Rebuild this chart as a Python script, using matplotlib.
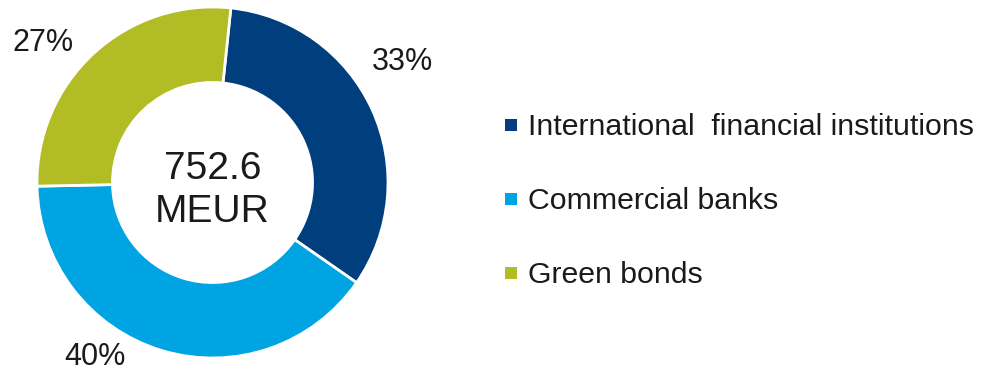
import numpy as np
import matplotlib.pyplot as plt
from matplotlib.patches import Rectangle

plt.rcParams["font.family"] = ["Liberation Sans", "DejaVu Sans"]

# Funding sources (share of total, %)
sources = ["International  financial institutions", "Commercial banks", "Green bonds"]
shares = [33, 40, 27]
colors = ["#003E7E", "#00A4E2", "#B2BC24"]
total_label = "752.6\nMEUR"

W, H = 987, 374
R = 175.5            # outer radius in pixels
cx, cy = 212.5, 182.5  # donut centre in pixels

fig = plt.figure(figsize=(W / 100, H / 100), dpi=100)
ax = fig.add_axes([0, 0, 1, 1])

wedges, _ = ax.pie(shares, colors=colors, startangle=84, counterclock=False,
                   radius=1.0, center=(0, 0), frame=True,
                   wedgeprops=dict(width=0.43, edgecolor="white", linewidth=2))
ax.set_xlim(-cx / R, (W - cx) / R)
ax.set_ylim(-(H - cy) / R, cy / R)
ax.set_aspect("equal")
ax.axis("off")

# percentage labels outside the ring
label_pos = [(1.083, 0.687), (-0.670, -0.994), (-0.966, 0.795)]
for (lx, ly), v in zip(label_pos, shares):
    ax.text(lx, ly, f"{v}%", ha="center", va="center", fontsize=22,
            color="#1a1a1a")

ax.text(0, -0.045, total_label, ha="center", va="center", fontsize=28,
        color="#1a1a1a", linespacing=1.25)

# legend drawn by hand
sq = 12 / R
x0 = (505 - cx) / R
for i, (name, c) in enumerate(zip(sources, colors)):
    yc = (cy - (125 + 74 * i)) / R
    ax.add_patch(Rectangle((x0, yc - sq / 2), sq, sq, facecolor=c,
                           edgecolor="none"))
    ax.text((528 - cx) / R, yc - 2 / R, name, ha="left", va="center",
            fontsize=21.8, color="#1a1a1a")

fig.savefig("out.png", dpi=100)
